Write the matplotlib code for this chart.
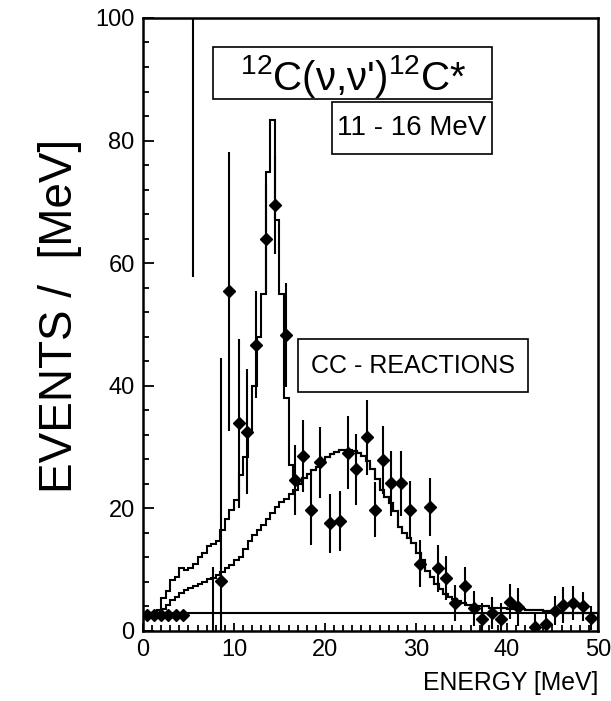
import numpy as np
import matplotlib
matplotlib.use("Agg")
import matplotlib.pyplot as plt
from matplotlib.patches import Rectangle

plt.rcParams['font.family'] = ['Liberation Sans', 'DejaVu Sans']
plt.rcParams['mathtext.fontset'] = 'custom'
plt.rcParams['mathtext.rm'] = 'Liberation Sans'
plt.rcParams['mathtext.it'] = 'Liberation Sans:italic'

# ---------------- data ----------------
bin_width = 0.5
# CC-reactions histogram, 0.5 MeV bins from 0 to 50 MeV
cc_hist = [2.9, 2.9, 2.9, 3.0, 3.6, 4.3, 5.0, 5.6, 6.2, 6.7,
           7.0, 7.3, 7.7, 8.0, 8.4, 8.7, 9.2, 9.7, 10.3, 10.8,
           11.5, 12.1, 13.3, 14.6, 15.6, 16.4, 17.3, 18.2, 19.2, 20.2,
           21.0, 21.6, 22.3, 23.0, 24.0, 25.0, 25.6, 26.2, 26.8, 27.5,
           28.4, 28.8, 29.2, 29.5, 29.5, 29.6, 29.4, 29.0, 28.5, 27.8,
           26.5, 24.8, 23.0, 21.8, 20.8, 19.5, 17.0, 15.9, 15.2, 14.4,
           12.8, 11.5, 9.8, 8.8, 7.6, 6.8, 6.0, 5.5, 5.2, 4.9,
           4.5, 4.2, 4.1, 4.1, 4.0, 4.0, 3.8, 3.8, 3.8, 3.8,
           3.6, 3.6, 3.6, 3.6, 3.4, 3.4, 3.4, 3.4, 3.2, 3.2,
           3.2, 3.2, 3.0, 3.0, 3.0, 3.0, 3.0, 3.0, 3.0, 3.0]
# total (NC + CC) histogram below 17 MeV; above 17 MeV it coincides with CC
total_hist_low = [2.9, 2.9, 2.9, 3.5, 5.3, 6.5, 8.3, 8.8, 10.2, 10.0,
                  10.3, 11.0, 12.1, 12.8, 13.8, 14.2, 14.6, 16.5, 18.2, 19.7,
                  21.4, 25.4, 28.4, 32.8, 40.0, 48.0, 55.0, 74.9, 83.4, 67.0,
                  55.0, 38.0, 27.0, 24.5]

# measured points
data_x = [0.4, 1.2, 2.0, 2.8, 3.6, 4.4, 8.6, 9.4, 10.5, 11.4,
          12.4, 13.5, 14.5, 15.7, 16.7, 17.6, 18.5, 19.5, 20.5, 21.6,
          22.5, 23.4, 24.6, 25.5, 26.4, 27.3, 28.3, 29.3, 30.4, 31.5,
          32.4, 33.3, 34.3, 35.4, 36.4, 37.3, 38.4, 39.3, 40.3, 41.2,
          43.1, 44.3, 45.3, 46.2, 47.3, 48.3, 49.2]
data_y = [2.6, 2.6, 2.6, 2.6, 2.6, 2.6, 8.2, 55.4, 33.9, 32.5,
          46.7, 63.9, 69.5, 48.3, 24.6, 28.5, 19.8, 27.5, 17.6, 18.0,
          29.1, 26.4, 31.6, 19.8, 27.9, 24.1, 24.1, 19.8, 11.0, 20.2,
          10.2, 8.6, 4.6, 7.3, 3.7, 1.9, 3.0, 1.9, 4.8, 3.9,
          0.7, 1.1, 3.3, 4.2, 4.6, 4.0, 2.1]
data_err = [0, 0, 0, 0, 0, 0, 0, 22.7, 13.8, 10.2,
            8.7, 9.0, 8.0, 8.5, 5.7, 5.9, 5.7, 5.8, 4.8, 4.9,
            6.0, 5.8, 6.1, 4.5, 5.5, 5.3, 5.3, 4.7, 3.8, 4.7,
            3.8, 3.6, 2.9, 3.2, 2.9, 2.6, 2.6, 2.6, 2.8, 3.1,
            2.2, 2.2, 2.4, 2.9, 2.8, 2.3, 2.0]

# extra vertical bars (x, ymin, ymax)
vbar_x = [5.5, 7.65, 8.6]
vbar_lo = [57.7, 0.0, 0.0]
vbar_hi = [100.0, 10.5, 44.5]

background_level = 2.9

# ---------------- plot ----------------
fig = plt.figure(figsize=(6.11, 7.01), dpi=100)
ax = fig.add_axes([0.2340, 0.0999, 0.7447, 0.8745])

edges = np.arange(0, 50 + bin_width / 2, bin_width)
cc = np.array(cc_hist)
total = np.concatenate([total_hist_low, cc_hist[len(total_hist_low):]])

lw = 1.5
ax.stairs(total, edges, color='black', lw=lw)
ax.stairs(cc, edges, color='black', lw=lw)
ax.axhline(background_level, color='black', lw=lw)
ax.vlines(vbar_x, vbar_lo, vbar_hi, color='black', lw=lw)
ax.errorbar(data_x, data_y, yerr=data_err, fmt='D', color='black',
            ms=6.5, elinewidth=lw, capsize=0)

ax.set_xlim(0, 50)
ax.set_ylim(0, 100)
ax.set_xticks([0, 10, 20, 30, 40, 50])
ax.set_xticks(np.arange(0, 51, 1), minor=True)
ax.set_yticks([0, 20, 40, 60, 80, 100])
ax.set_yticks(np.arange(0, 101, 4), minor=True)
ax.tick_params(axis='both', which='both', direction='in', top=False, right=False,
               labelsize=17, width=1.3)
ax.tick_params(axis='x', which='major', length=6, pad=6)
ax.tick_params(axis='x', which='minor', length=4)
ax.tick_params(axis='y', which='major', length=8, pad=6)
ax.tick_params(axis='y', which='minor', length=4)
for s in ax.spines.values():
    s.set_linewidth(1.8)

ax.text(1.0, -0.085, 'ENERGY [MeV]', transform=ax.transAxes, ha='right', va='center',
        fontsize=17.8)
fig.text(0.098, 0.55, 'EVENTS /  [MeV]', rotation=90, ha='center', va='center',
         fontsize=33)

# labelled boxes
def box(x0, y0, x1, y1):
    ax.add_patch(Rectangle((x0, y0), x1 - x0, y1 - y0, transform=ax.transAxes,
                           fill=False, ec='black', lw=1.2, zorder=5))

box(0.154, 0.867, 0.767, 0.953)
ax.text(0.462, 0.905, "$^{12}$C(ν,ν')$^{12}$C*", transform=ax.transAxes,
        ha='center', va='center', fontsize=29)
box(0.415, 0.778, 0.767, 0.863)
ax.text(0.591, 0.8205, '11 - 16 MeV', transform=ax.transAxes, ha='center', va='center',
        fontsize=20)
box(0.341, 0.390, 0.847, 0.476)
ax.text(0.594, 0.433, 'CC - REACTIONS', transform=ax.transAxes, ha='center', va='center',
        fontsize=18)

fig.savefig('out.png', dpi=100)
